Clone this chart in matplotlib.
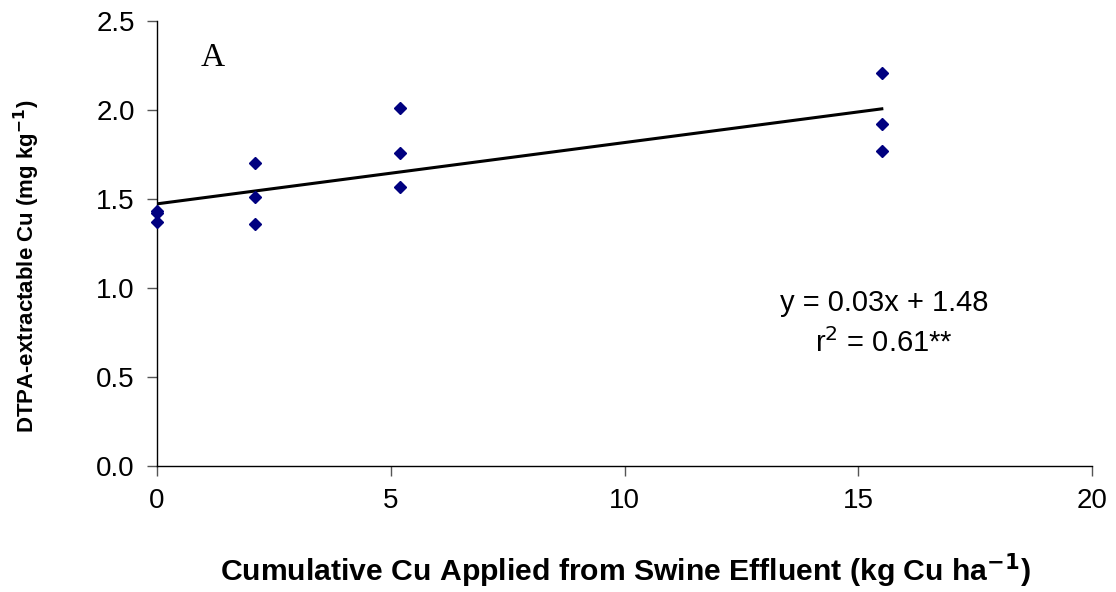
import numpy as np
import matplotlib.pyplot as plt

# cumulative Cu applied (kg Cu/ha) and DTPA-extractable Cu (mg/kg)
cu_applied = [0, 0, 0, 2.1, 2.1, 2.1, 5.2, 5.2, 5.2, 15.5, 15.5, 15.5]
dtpa_cu = [1.43, 1.42, 1.37, 1.70, 1.51, 1.36, 2.01, 1.76, 1.57, 2.21, 1.92, 1.77]

x_ticks = [0, 5, 10, 15, 20]
y_ticks = [0.0, 0.5, 1.0, 1.5, 2.0, 2.5]

plt.rcParams['font.family'] = ['Liberation Sans', 'DejaVu Sans']

fig = plt.figure(figsize=(11.16, 5.92), dpi=100)
ax = fig.add_axes([0.1407, 0.2128, 0.838, 0.7517])

x = np.array(cu_applied)
y = np.array(dtpa_cu)
slope, icpt = np.polyfit(x, y, 1)
xs = np.array([x.min(), x.max()])
ax.plot(xs, slope * xs + icpt, color='black', lw=2.2, zorder=2)
ax.plot(x, y, linestyle='none', marker='D', markersize=6.3,
        color='#000080', zorder=3, clip_on=False)

ax.set_xlim(0, 20)
ax.set_ylim(0, 2.5)
ax.set_xticks(x_ticks)
ax.set_yticks(y_ticks)
ax.set_xticklabels([str(t) for t in x_ticks])
ax.set_yticklabels([f'{t:.1f}' for t in y_ticks])
ax.tick_params(direction='out', length=7, width=1, labelsize=20, pad=9,
               color='#555555')
ax.spines['top'].set_visible(False)
ax.spines['right'].set_visible(False)
for s in ('left', 'bottom'):
    ax.spines[s].set_linewidth(1)

ax.set_xlabel('Cumulative Cu Applied from Swine Effluent (kg Cu ha$^{\\mathbf{-1}}$)',
              fontsize=21.7, fontweight='bold')
ax.set_ylabel('DTPA-extractable Cu (mg kg$^{\\mathbf{-1}}$)',
              fontsize=16, fontweight='bold')
ax.xaxis.set_label_coords(0.501, -0.193)
ax.yaxis.set_label_coords(-0.123, 0.449)

ax.text(0.06, 0.917, 'A', transform=ax.transAxes, fontsize=24,
        family='Liberation Serif', ha='center', va='center')
ax.text(15.55, 0.916, 'y = 0.03x + 1.48', fontsize=21, ha='center', va='center')
ax.text(15.55, 0.69, 'r$^2$ = 0.61**', fontsize=21, ha='center', va='center')

fig.savefig('out.png', dpi=100)
